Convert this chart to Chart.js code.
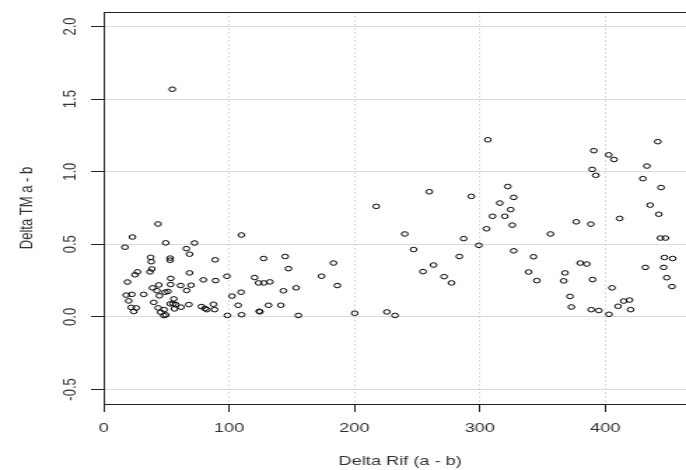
<!DOCTYPE html>
<html lang="en">
<head>
  <meta charset="UTF-8" />
  <title>Delta TM vs Delta Rif</title>
  <style>
    html, body {
      margin: 0;
      padding: 0;
      overflow: hidden;
      background: #fff;
    }
    /* the reference is an R plot stretched sideways, so draw narrow and widen */
    #wrap {
      width: 501px;
      height: 470px;
      transform: scale(1.4, 1);
      transform-origin: 0 0;
    }
  </style>
</head>
<body>
  <div id="wrap"><canvas id="scatter" width="501" height="470"></canvas></div>

  <script src="https://cdn.jsdelivr.net/npm/chart.js"></script>
  <script>
    // values
    const deltaRif = [
      17, 23, 19, 18, 20, 22.5, 22, 24, 26, 25, 27, 32, 37.5, 38, 38.5, 37, 39, 40,
      43.4, 42.5, 44, 44.5, 43.5, 45.5, 49.5, 48, 49.6, 48.2, 49, 51.3, 53, 53, 53.5,
      53.4, 56, 55.5, 56.5, 54.8, 53.1, 57.5, 61.4, 61.7, 66, 68.5, 66.2, 68, 68.5,
      69.7, 72.5, 79.5, 78, 80.8, 82.4, 87.6, 88.5, 89.3, 89, 98.3, 98.7,
      102.4, 107.3, 109.6, 109.9, 110, 120.4, 123.6, 124.1, 124.6, 127.8, 127.6, 132.6,
      131.5, 141.3, 143.4, 144.8, 147.4, 153.5, 155.3, 173.8, 183.3, 186.4, 200.2,
      217.4, 225.8, 232.4,
      240.1, 247.2, 254.7, 259.7, 263.1, 271.5, 277.4, 283.7, 287.1, 293.2, 299.2,
      305.3, 306.4, 310.1, 315.9, 319.9, 322.3, 324.6, 325.9, 327, 327,
      338.9, 342.8, 345.5, 356.3, 366.9, 367.9, 371.9, 373, 376.9, 380.1, 385.3, 388.5,
      389.6, 390.9, 392.5, 389.9, 388.8, 394.9, 403, 402.8, 407, 405.4, 411.5, 410.2,
      414.7, 419.4, 420.2, 430, 433.2, 432, 435.8, 441.9, 442.7, 444.5, 444, 448,
      447.2, 453.8, 446.6, 449, 453.2
    ];
    const deltaTM = [
      0.48, 0.55, 0.24, 0.15, 0.11, 0.155, 0.065, 0.037, 0.062, 0.29, 0.31, 0.155, 0.41, 0.38, 0.33, 0.31, 0.20, 0.10,
      0.64, 0.18, 0.22, 0.145, 0.062, 0.032, 0.51, 0.009, 0.014, 0.05, 0.17, 0.175, 0.405, 0.39, 0.265,
      0.223, 0.124, 0.09, 0.055, 1.568, 0.09, 0.085, 0.216, 0.067, 0.47, 0.432, 0.182, 0.085, 0.303,
      0.218, 0.509, 0.255, 0.071, 0.058, 0.05, 0.087, 0.05, 0.25, 0.393, 0.28, 0.01,
      0.143, 0.08, 0.17, 0.564, 0.015, 0.271, 0.234, 0.039, 0.035, 0.234, 0.402, 0.241,
      0.08, 0.08, 0.18, 0.416, 0.332, 0.2, 0.01, 0.28, 0.371, 0.216, 0.025,
      0.761, 0.034, 0.01,
      0.571, 0.464, 0.312, 0.862, 0.357, 0.277, 0.234, 0.416, 0.539, 0.83, 0.493,
      0.607, 1.22, 0.693, 0.784, 0.693, 0.898, 0.739, 0.632, 0.823, 0.455,
      0.309, 0.414, 0.25, 0.571, 0.248, 0.303, 0.141, 0.068, 0.655, 0.371, 0.364, 0.639,
      1.016, 1.145, 0.975, 0.257, 0.05, 0.044, 0.018, 1.116, 1.084, 0.2, 0.678, 0.073,
      0.109, 0.116, 0.05, 0.952, 1.039, 0.341, 0.77, 1.207, 0.707, 0.891, 0.543, 0.543,
      0.409, 0.402, 0.341, 0.27, 0.209
    ];
    const xTicks = [0, 100, 200, 300, 400];
    const yTicks = [-0.5, 0, 0.5, 1, 1.5, 2];

    const font = { family: '"Liberation Sans", Arial, sans-serif', size: 13 };
    const titleFont = { family: font.family, size: 13, lineHeight: 1 };
    const textColor = '#333';
    const axisColor = '#222';
    const gridColor = '#dcdcdc';

    const points = deltaRif.map((x, i) => ({ x: x, y: deltaTM[i] }));

    const ctx = document.getElementById('scatter').getContext('2d');
    new Chart(ctx, {
      type: 'scatter',
      data: {
        datasets: [{
          data: points,
          pointStyle: 'circle',
          pointRadius: 2.3,
          pointHoverRadius: 2.3,
          pointBorderWidth: 1,
          pointBorderColor: '#000',
          pointBackgroundColor: 'rgba(0,0,0,0)'
        }]
      },
      options: {
        responsive: false,
        animation: false,
        devicePixelRatio: 1,
        layout: { padding: { top: 12, right: 0, bottom: 0, left: 0 } },
        plugins: {
          legend: { display: false },
          tooltip: { enabled: false }
        },
        scales: {
          x: {
            type: 'linear',
            position: 'bottom',
            min: 0,
            max: 473,
            afterBuildTicks: (scale) => { scale.ticks = xTicks.map(v => ({ value: v })); },
            afterFit: (scale) => {
              scale.height = 66;
              scale.paddingLeft = 0;
              scale.paddingRight = 0;
            },
            grid: {
              color: gridColor,
              tickColor: axisColor,
              tickLength: 8,
              tickBorderDash: []
            },
            border: { display: true, color: axisColor, width: 1, dash: [2, 2] },
            ticks: {
              autoSkip: false,
              maxRotation: 0,
              padding: 9,
              color: textColor,
              font: font
            },
            title: {
              display: true,
              text: 'Delta Rif (a - b)',
              color: textColor,
              font: titleFont,
              padding: { top: 0, bottom: 2 }
            }
          },
          y: {
            type: 'linear',
            position: 'left',
            min: -0.6,
            max: 2.1,
            afterBuildTicks: (scale) => { scale.ticks = yTicks.map(v => ({ value: v })); },
            afterFit: (scale) => {
              scale.width = 74;
              scale.paddingTop = 0;
              scale.paddingBottom = 0;
            },
            grid: {
              color: gridColor,
              tickColor: axisColor,
              tickLength: 9
            },
            border: { display: true, color: axisColor, width: 1 },
            ticks: {
              minRotation: 90,
              maxRotation: 90,
              crossAlign: 'center',
              padding: 3,
              color: textColor,
              font: font,
              callback: (v) => Number(v).toFixed(1)
            },
            title: {
              display: true,
              text: 'Delta TM a - b',
              color: textColor,
              font: titleFont,
              padding: { top: 13, bottom: 0 }
            }
          },
          top: {
            type: 'linear',
            position: 'top',
            min: 0,
            max: 1,
            afterFit: (scale) => {
              scale.height = 0;
              scale.paddingLeft = 0;
              scale.paddingRight = 0;
            },
            ticks: { display: false },
            grid: { display: false, drawTicks: false },
            border: { display: true, color: axisColor, width: 1 }
          }
        }
      }
    });
  </script>
</body>
</html>
